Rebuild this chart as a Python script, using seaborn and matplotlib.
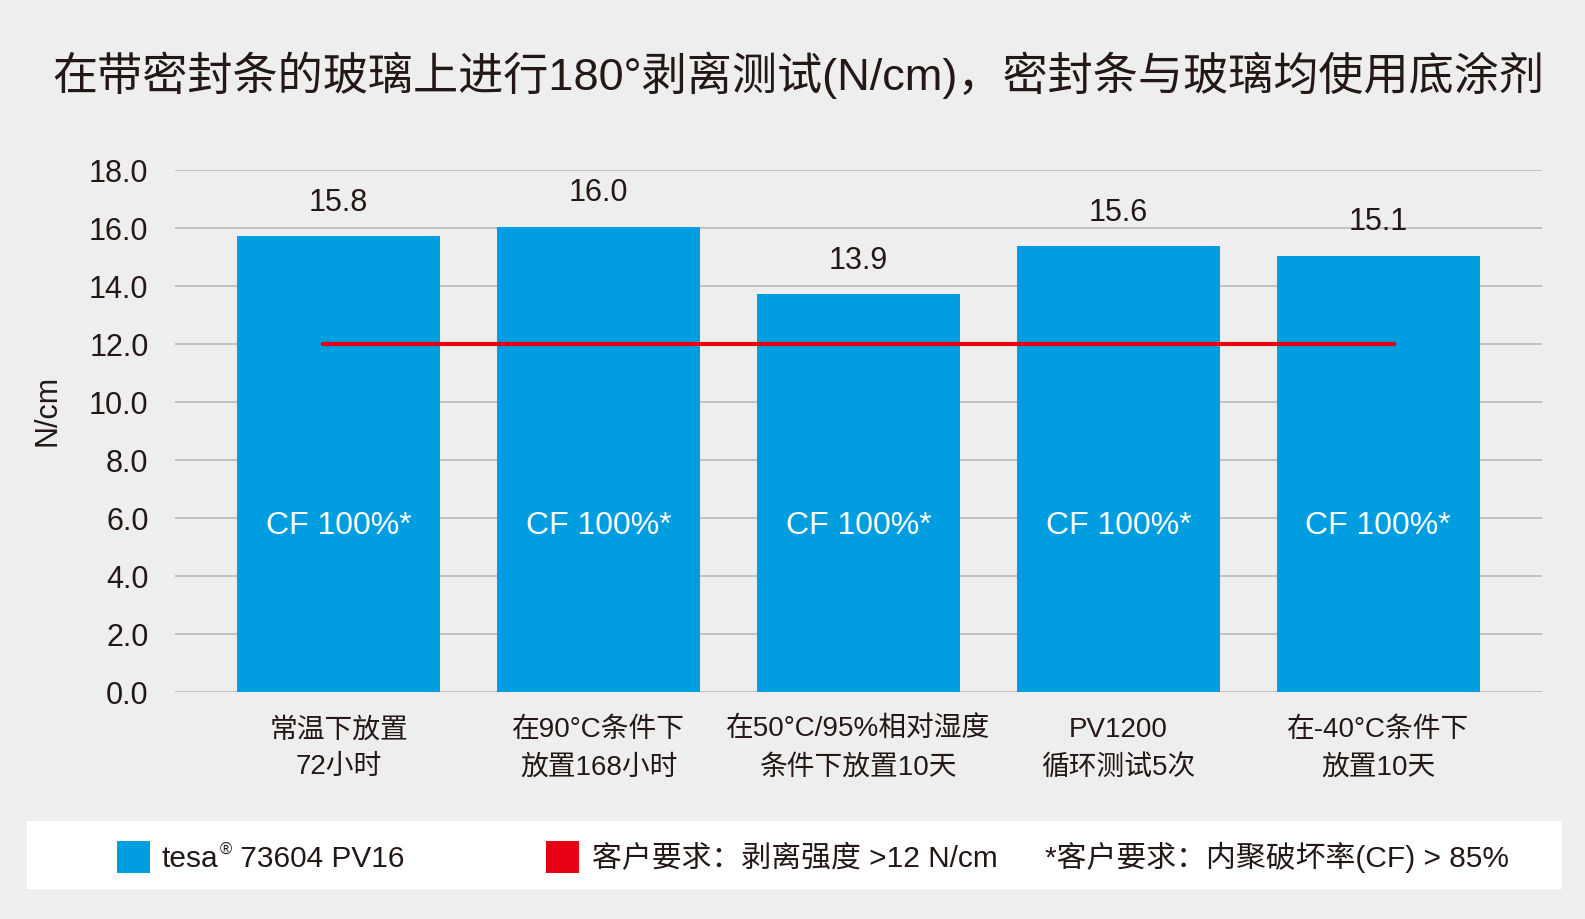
import matplotlib
matplotlib.use("Agg")
import matplotlib.pyplot as plt
import seaborn as sns
import pandas as pd
from matplotlib import font_manager
from matplotlib.patches import Rectangle

# data
categories = ["常温下放置\n72小时", "在90°C条件下\n放置168小时", "在50°C/95%相对湿度\n条件下放置10天",
              "PV1200\n循环测试5次", "在-40°C条件下\n放置10天"]
values = [15.72, 16.06, 13.72, 15.39, 15.06]
value_labels = ["15.8", "16.0", "13.9", "15.6", "15.1"]
cf_labels = ["CF 100%*", "CF 100%*", "CF 100%*", "CF 100%*", "CF 100%*"]
requirement = 12.0
yticks = [0, 2, 4, 6, 8, 10, 12, 14, 16, 18]

title = "在带密封条的玻璃上进行180°剥离测试(N/cm)，密封条与玻璃均使用底涂剂"
legend_bar = ("tesa", "®", " 73604 PV16")
legend_req = "客户要求：剥离强度 >12 N/cm"
legend_cf = "*客户要求：内聚破坏率(CF) > 85%"

BLUE = "#009ee0"
RED = "#e60012"
BG = "#eeeeee"
TXT = "#231815"

sns.set_style("white")
plt.rcParams['font.family'] = ['Liberation Sans', 'Noto Sans CJK SC', 'DejaVu Sans']
plt.rcParams['axes.unicode_minus'] = False

names = {f.name for f in font_manager.fontManager.ttflist}
if 'Liberation Sans Narrow' in names:
    leg_family, leg_size = ['Liberation Sans Narrow', 'Noto Sans CJK SC'], 23
else:
    leg_family, leg_size = ['Liberation Sans', 'Noto Sans CJK SC'], 21.5

W, H = 1585, 919
fig = plt.figure(figsize=(W / 100, H / 100), dpi=100, facecolor=BG)
ax = fig.add_axes([175 / W, 1 - 692.3 / H, (1542 - 175) / W, (692.3 - 170.3) / H])
ax.set_facecolor(BG)

df = pd.DataFrame({"cat": categories, "val": values})
sns.barplot(data=df, x="cat", y="val", color=BLUE, width=0.78, saturation=1,
            edgecolor="none", ax=ax, zorder=2)

n = len(categories)
ax.plot([-0.068, n - 1 + 0.068], [requirement, requirement], color=RED, lw=3, zorder=3,
        solid_capstyle="butt")

for i in range(n):
    ax.text(i, values[i] + 1.15, value_labels[i], ha="center", va="center", fontsize=22, color=TXT)
    ax.text(i, 5.73, cf_labels[i], ha="center", va="center", fontsize=23, color="white", zorder=4)

ax.set_xlim(-0.63, n - 1 + 0.63)
ax.set_ylim(0, 18)
ax.set_yticks(yticks)
ax.set_yticklabels([f"{t:.1f}" for t in yticks], fontsize=22, color=TXT)
ax.set_xticks(range(n))
ax.set_xticklabels(categories, fontsize=20, color=TXT, linespacing=1.55)
ax.tick_params(axis="y", length=0, pad=19)
ax.tick_params(axis="x", length=0, pad=18)
ax.set_xlabel("")
ax.set_ylabel("")
ax.set_axisbelow(True)
ax.yaxis.grid(True, color="#b4b4b4", lw=1.1, zorder=0)
ax.xaxis.grid(False)
for s in ax.spines.values():
    s.set_visible(False)

fig.text(48 / W, 1 - 410 / H, "N/cm", rotation=90, ha="center", va="center", fontsize=22, color=TXT)
fig.text(798 / W, 1 - 75 / H, title, ha="center", va="center", fontsize=32.5, color=TXT)

# legend strip
fig.patches.append(Rectangle((27 / W, 1 - 889 / H), (1562 - 27) / W, 68 / H,
                             transform=fig.transFigure, facecolor="white", edgecolor="none", zorder=0))
fig.patches.append(Rectangle((117 / W, 1 - 873 / H), 33 / W, 32 / H,
                             transform=fig.transFigure, facecolor=BLUE, edgecolor="none", zorder=1))
fig.patches.append(Rectangle((546 / W, 1 - 873 / H), 33 / W, 32 / H,
                             transform=fig.transFigure, facecolor=RED, edgecolor="none", zorder=1))
base = 1 - 867 / H
renderer = fig.canvas.get_renderer()
t1 = fig.text(162 / W, base, legend_bar[0], ha="left", va="baseline", fontsize=leg_size,
              color=TXT, family=leg_family)
x1 = t1.get_window_extent(renderer).x1 / W
t2 = fig.text(x1 + 1 / W, base + 12 / H, legend_bar[1], ha="left", va="baseline",
              fontsize=leg_size * 0.55, color=TXT, family=leg_family)
x2 = t2.get_window_extent(renderer).x1 / W
fig.text(x2, base, legend_bar[2], ha="left", va="baseline", fontsize=leg_size, color=TXT, family=leg_family)
fig.text(592 / W, base, legend_req, ha="left", va="baseline", fontsize=leg_size, color=TXT, family=leg_family)
fig.text(1045 / W, base, legend_cf, ha="left", va="baseline", fontsize=leg_size, color=TXT, family=leg_family)

fig.savefig("out.png", dpi=100, facecolor=BG)
